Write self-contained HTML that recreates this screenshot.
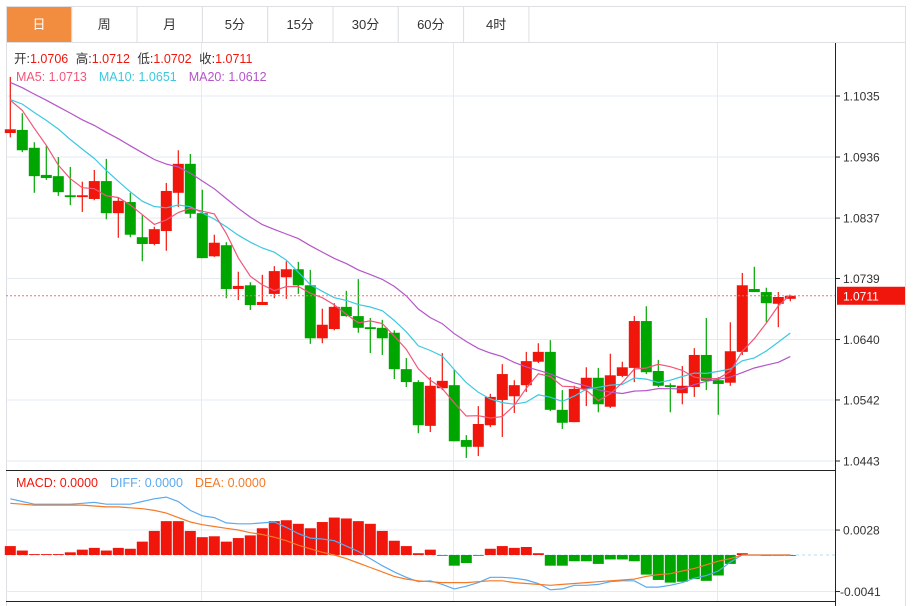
<!DOCTYPE html>
<html><head><meta charset="utf-8">
<style>
body{margin:0;background:#fff;width:913px;height:606px;overflow:hidden;font-family:"Liberation Sans","Noto Sans CJK SC",sans-serif;}
svg{position:absolute;left:0;top:0}
</style></head>
<body>
<svg id="chart" width="913" height="606" font-family="Liberation Sans, Noto Sans CJK SC, sans-serif">
<rect x="6.5" y="6.5" width="899" height="600" fill="#fff" stroke="#dcdfe3"/>
<line x1="6" y1="42.5" x2="906" y2="42.5" stroke="#dcdfe3"/>
<g id="tabs"></g>
<g id="grid"></g>
<g id="macd"></g>
<g id="main"></g>
<g id="axis"></g>
<text x="14" y="63" font-size="12.5"><tspan fill="#333">开:</tspan><tspan fill="#f0160c">1.0706 </tspan><tspan fill="#333" dx="4">高:</tspan><tspan fill="#f0160c">1.0712 </tspan><tspan fill="#333" dx="4">低:</tspan><tspan fill="#f0160c">1.0702 </tspan><tspan fill="#333" dx="4">收:</tspan><tspan fill="#f0160c">1.0711</tspan></text>
<text x="16" y="81" font-size="12.5"><tspan fill="#f0567a">MA5: 1.0713</tspan><tspan fill="#3cc8e0" dx="12">MA10: 1.0651</tspan><tspan fill="#b455c8" dx="12">MA20: 1.0612</tspan></text>
<text x="16" y="487" font-size="12.5"><tspan fill="#f0160c">MACD: 0.0000</tspan><tspan fill="#5aaaf0" dx="12">DIFF: 0.0000</tspan><tspan fill="#f57a28" dx="12">DEA: 0.0000</tspan></text>
</svg>
<script>
const tabLabels=["日","周","月","5分","15分","30分","60分","4时"];
const priorCloses=[1.112,1.111,1.110,1.109,1.108,1.109,1.108,1.107,1.107,1.104,1.102,1.104,1.103,1.102,1.104,1.103,1.105,1.104,1.104];
const opens=[1.0975,1.0980,1.0951,1.0907,1.0905,1.0874,1.0871,1.0868,1.0897,1.0845,1.0863,1.0806,1.0795,1.0816,1.0878,1.0925,1.0845,1.0775,1.0793,1.0722,1.0728,1.0696,1.0714,1.0741,1.0754,1.0728,1.0642,1.0657,1.0693,1.0678,1.0660,1.0659,1.0651,1.0592,1.0571,1.0500,1.0561,1.0566,1.0477,1.0466,1.0501,1.0542,1.0548,1.0566,1.0604,1.0620,1.0526,1.0506,1.0560,1.0578,1.0531,1.0581,1.0594,1.0670,1.0589,1.0566,1.0553,1.0563,1.0615,1.0574,1.0570,1.0620,1.0722,1.0717,1.0698,1.0706];
const highs=[1.1066,1.1007,1.0960,1.0954,1.0936,1.0920,1.0896,1.0915,1.0933,1.0871,1.0878,1.0842,1.0823,1.0894,1.0947,1.0941,1.0883,1.0810,1.0798,1.0750,1.0733,1.0745,1.0759,1.0767,1.0766,1.0753,1.0690,1.0699,1.0719,1.0738,1.0675,1.0672,1.0655,1.0610,1.0574,1.0579,1.0618,1.0591,1.0485,1.0532,1.0552,1.0600,1.0574,1.0620,1.0634,1.0639,1.0558,1.0565,1.0595,1.0594,1.0617,1.0604,1.0678,1.0694,1.0607,1.0569,1.0597,1.0626,1.0675,1.0579,1.0668,1.0748,1.0758,1.0724,1.0717,1.0712];
const lows=[1.0968,1.0944,1.0878,1.0899,1.0873,1.0858,1.0847,1.0866,1.0835,1.0805,1.0806,1.0767,1.0793,1.0784,1.0855,1.0837,1.0772,1.0774,1.0707,1.0704,1.0688,1.0696,1.0707,1.0706,1.0714,1.0633,1.0634,1.0655,1.0677,1.0651,1.0618,1.0615,1.0576,1.0563,1.0488,1.0490,1.0558,1.0475,1.0448,1.0451,1.0498,1.0482,1.0521,1.0555,1.0602,1.0524,1.0495,1.0506,1.0532,1.0522,1.0529,1.0579,1.0571,1.0584,1.0563,1.0522,1.0535,1.0547,1.0558,1.0518,1.0565,1.0615,1.0717,1.0668,1.0660,1.0702];
const closes=[1.0981,1.0947,1.0905,1.0902,1.0879,1.0871,1.0874,1.0897,1.0845,1.0865,1.0810,1.0795,1.0819,1.0881,1.0925,1.0844,1.0772,1.0797,1.0722,1.0727,1.0696,1.0701,1.0751,1.0754,1.0728,1.0642,1.0664,1.0693,1.0678,1.0659,1.0657,1.0642,1.0592,1.0571,1.0501,1.0565,1.0573,1.0475,1.0466,1.0503,1.0547,1.0584,1.0566,1.0605,1.0620,1.0526,1.0505,1.0560,1.0578,1.0535,1.0582,1.0595,1.0670,1.0587,1.0565,1.0563,1.0565,1.0615,1.0573,1.0568,1.0621,1.0728,1.0717,1.0699,1.0709,1.0711];
const macdVals=[.0010,.0005,.0001,.0001,.0001,.0003,.0006,.0008,.0005,.0008,.0007,.0015,.0027,.0038,.0038,.0027,.0020,.0021,.0015,.0019,.0022,.0030,.0038,.0039,.0035,.0030,.0037,.0042,.0041,.0038,.0035,.0027,.0016,.0010,.0002,.0006,-.00003,-.0012,-.0009,-.00003,.0007,.0010,.0008,.0009,.0002,-.0012,-.0012,-.0007,-.0007,-.0010,-.0005,-.0005,-.0007,-.0022,-.0028,-.0031,-.0030,-.0027,-.0029,-.0023,-.0010,.0002,.00003,-.0001,0,0];
const diffVals=[.0063,.0060,.0057,.0057,.0057,.0057,.0058,.0059,.0057,.0057,.0057,.0060,.0063,.0065,.0060,.0050,.0044,.0042,.0036,.0035,.0035,.0036,.0037,.0031,.0024,.0019,.0018,.0016,.0010,.0004,-.0004,-.0012,-.0019,-.0025,-.0030,-.0029,-.0033,-.0038,-.0035,-.0031,-.0025,-.0025,-.0026,-.0028,-.0032,-.0039,-.0038,-.0034,-.0034,-.0033,-.0030,-.0029,-.0029,-.0036,-.0036,-.0034,-.0031,-.0026,-.0023,-.0018,-.0008,0,0,0,0,0];
const deaVals=[.0058,.0057,.0056,.0056,.0056,.0056,.0056,.0055,.0054,.0054,.0053,.0052,.0050,.0047,.0042,.0037,.0034,.0032,.0030,.0028,.0025,.0023,.0020,.0016,.0011,.0007,.0003,0,-.0004,-.0009,-.0014,-.0019,-.0024,-.0027,-.0029,-.0030,-.0031,-.0031,-.0031,-.0030,-.0029,-.0029,-.0031,-.0032,-.0033,-.0034,-.0033,-.0032,-.0031,-.0030,-.0029,-.0028,-.0027,-.0024,-.0022,-.0021,-.0018,-.0015,-.0011,-.0007,-.0004,0,0,0,0,0];
const priceTicks=[1.1035,1.0936,1.0837,1.0739,1.0640,1.0542,1.0443];
const macdTicks=[0.0028,-0.0041];
const lastPrice=1.0711;

const NS="http://www.w3.org/2000/svg";
function mk(tag,attrs,parent){const e=document.createElementNS(NS,tag);for(const k in attrs)e.setAttribute(k,attrs[k]);parent.appendChild(e);return e;}
const xS=i=>10.3+12*i;
const yP=p=>96+(1.1035-p)/(1.1035-1.0443)*365;
const yM=v=>555-v/0.0069*61.5;
const RED="#f0160c",GREEN="#00a600";

// tabs
const tabs=document.getElementById('tabs');
tabLabels.forEach((t,i)=>{
  const x=6+i*65.3;
  const r=mk('rect',{x:x+0.5,y:6.5,width:65.3,height:36,fill:i===0?"#f28c3e":"#fff",stroke:"#dcdfe3"},tabs);
  
  
  const tx=mk('text',{x:x+33,y:29,'font-size':13,'text-anchor':'middle',fill:i===0?"#fff":"#333"},tabs);
  tx.textContent=t;
  
  
});

// grid
const grid=document.getElementById('grid');
priceTicks.forEach(p=>{const l=mk('line',{x1:6,x2:835,y1:yP(p),y2:yP(p),stroke:"#e3eaf1"},grid);
  
  });
macdTicks.forEach(v=>{const l=mk('line',{x1:6,x2:835,y1:yM(v),y2:yM(v),stroke:"#e3eaf1"},grid);
  
  });
[201.5,453.5,717.5].forEach(x=>{const l=mk('line',{x1:x,x2:x,y1:43,y2:601,stroke:"#e3eaf1"},grid);
  
  });
mk('line',{x1:6,x2:835,y1:470.5,y2:470.5,stroke:"#222"},grid);
mk('line',{x1:6,x2:835,y1:601.5,y2:601.5,stroke:"#222"},grid);
mk('line',{x1:6,x2:790,y1:yM(0),y2:yM(0),stroke:"#aee0ec","stroke-dasharray":"3,3"},grid);
mk('line',{x1:790,x2:835,y1:yM(0),y2:yM(0),stroke:"#aee0ec","stroke-dasharray":"3,3"},grid);

// MACD
const mg=document.getElementById('macd');
macdVals.forEach((v,i)=>{
  const y0=yM(0),y1=yM(v);
  const r=mk('rect',{x:xS(i)-5.5,y:Math.min(y0,y1),width:11,height:Math.max(0.8,Math.abs(y1-y0)),fill:v>=0?RED:GREEN},mg);
  
  
});
function poly(vals,yf,color,g,name){
  const pts=vals.map((v,i)=>xS(i).toFixed(1)+","+yf(v).toFixed(1)).join(" ");
  const p=mk('polyline',{points:pts,fill:"none",stroke:color,"stroke-width":1.2},g);
  
  
}
poly(diffVals,yM,"#5aaaf0",mg,'diff-line');
poly(deaVals,yM,"#f57a28",mg,'dea-line');

// candles
const g=document.getElementById('main');
closes.forEach((c,i)=>{
  const o=opens[i],up=c>=o,col=up?RED:GREEN,x=xS(i);
  const w=mk('line',{x1:x,x2:x,y1:yP(highs[i]),y2:yP(lows[i]),stroke:col,"stroke-width":1.2},g);
  
  
  const t=yP(Math.max(o,c)),b=yP(Math.min(o,c));
  const r=mk('rect',{x:x-5.5,y:t,width:11,height:Math.max(1.5,b-t),fill:col},g);
  
  
});
// moving averages
const all=priorCloses.concat(closes);
function ma(n){return closes.map((_,i)=>{const j=i+priorCloses.length;let s=0;for(let k=j-n+1;k<=j;k++)s+=all[k];return s/n;});}
poly(ma(20),yP,"#b455c8",g,'ma20-line');
poly(ma(10),yP,"#3cc8e0",g,'ma10-line');
poly(ma(5),yP,"#f0567a",g,'ma5-line');
mk('line',{x1:6,x2:835,y1:yP(lastPrice),y2:yP(lastPrice),stroke:"#f07070","stroke-dasharray":"2,2"},g);

// axis
const ax=document.getElementById('axis');
mk('line',{x1:835.5,x2:835.5,y1:43,y2:606,stroke:"#222"},ax);
priceTicks.forEach(p=>{
  const y=yP(p);
  mk('line',{x1:835,x2:840,y1:y,y2:y,stroke:"#222"},ax);
  const t=mk('text',{x:843,y:y+4.5,'font-size':12,fill:"#333"},ax);
  t.textContent=p.toFixed(4);
  
  
});
macdTicks.forEach(v=>{
  const y=yM(v);
  mk('line',{x1:835,x2:840,y1:y,y2:y,stroke:"#222"},ax);
  const t=mk('text',{x:v<0?840:843,y:y+4.5,'font-size':12,fill:"#333"},ax);
  t.textContent=v.toFixed(4);
  
  
});
const ly=yP(lastPrice);
const lb=mk('rect',{x:837,y:ly-9,width:68,height:18,fill:"#f0160c"},ax);


const lt=mk('text',{x:843,y:ly+4.5,'font-size':12,fill:"#fff"},ax);
lt.textContent=lastPrice.toFixed(4);


</script>
</body></html>
